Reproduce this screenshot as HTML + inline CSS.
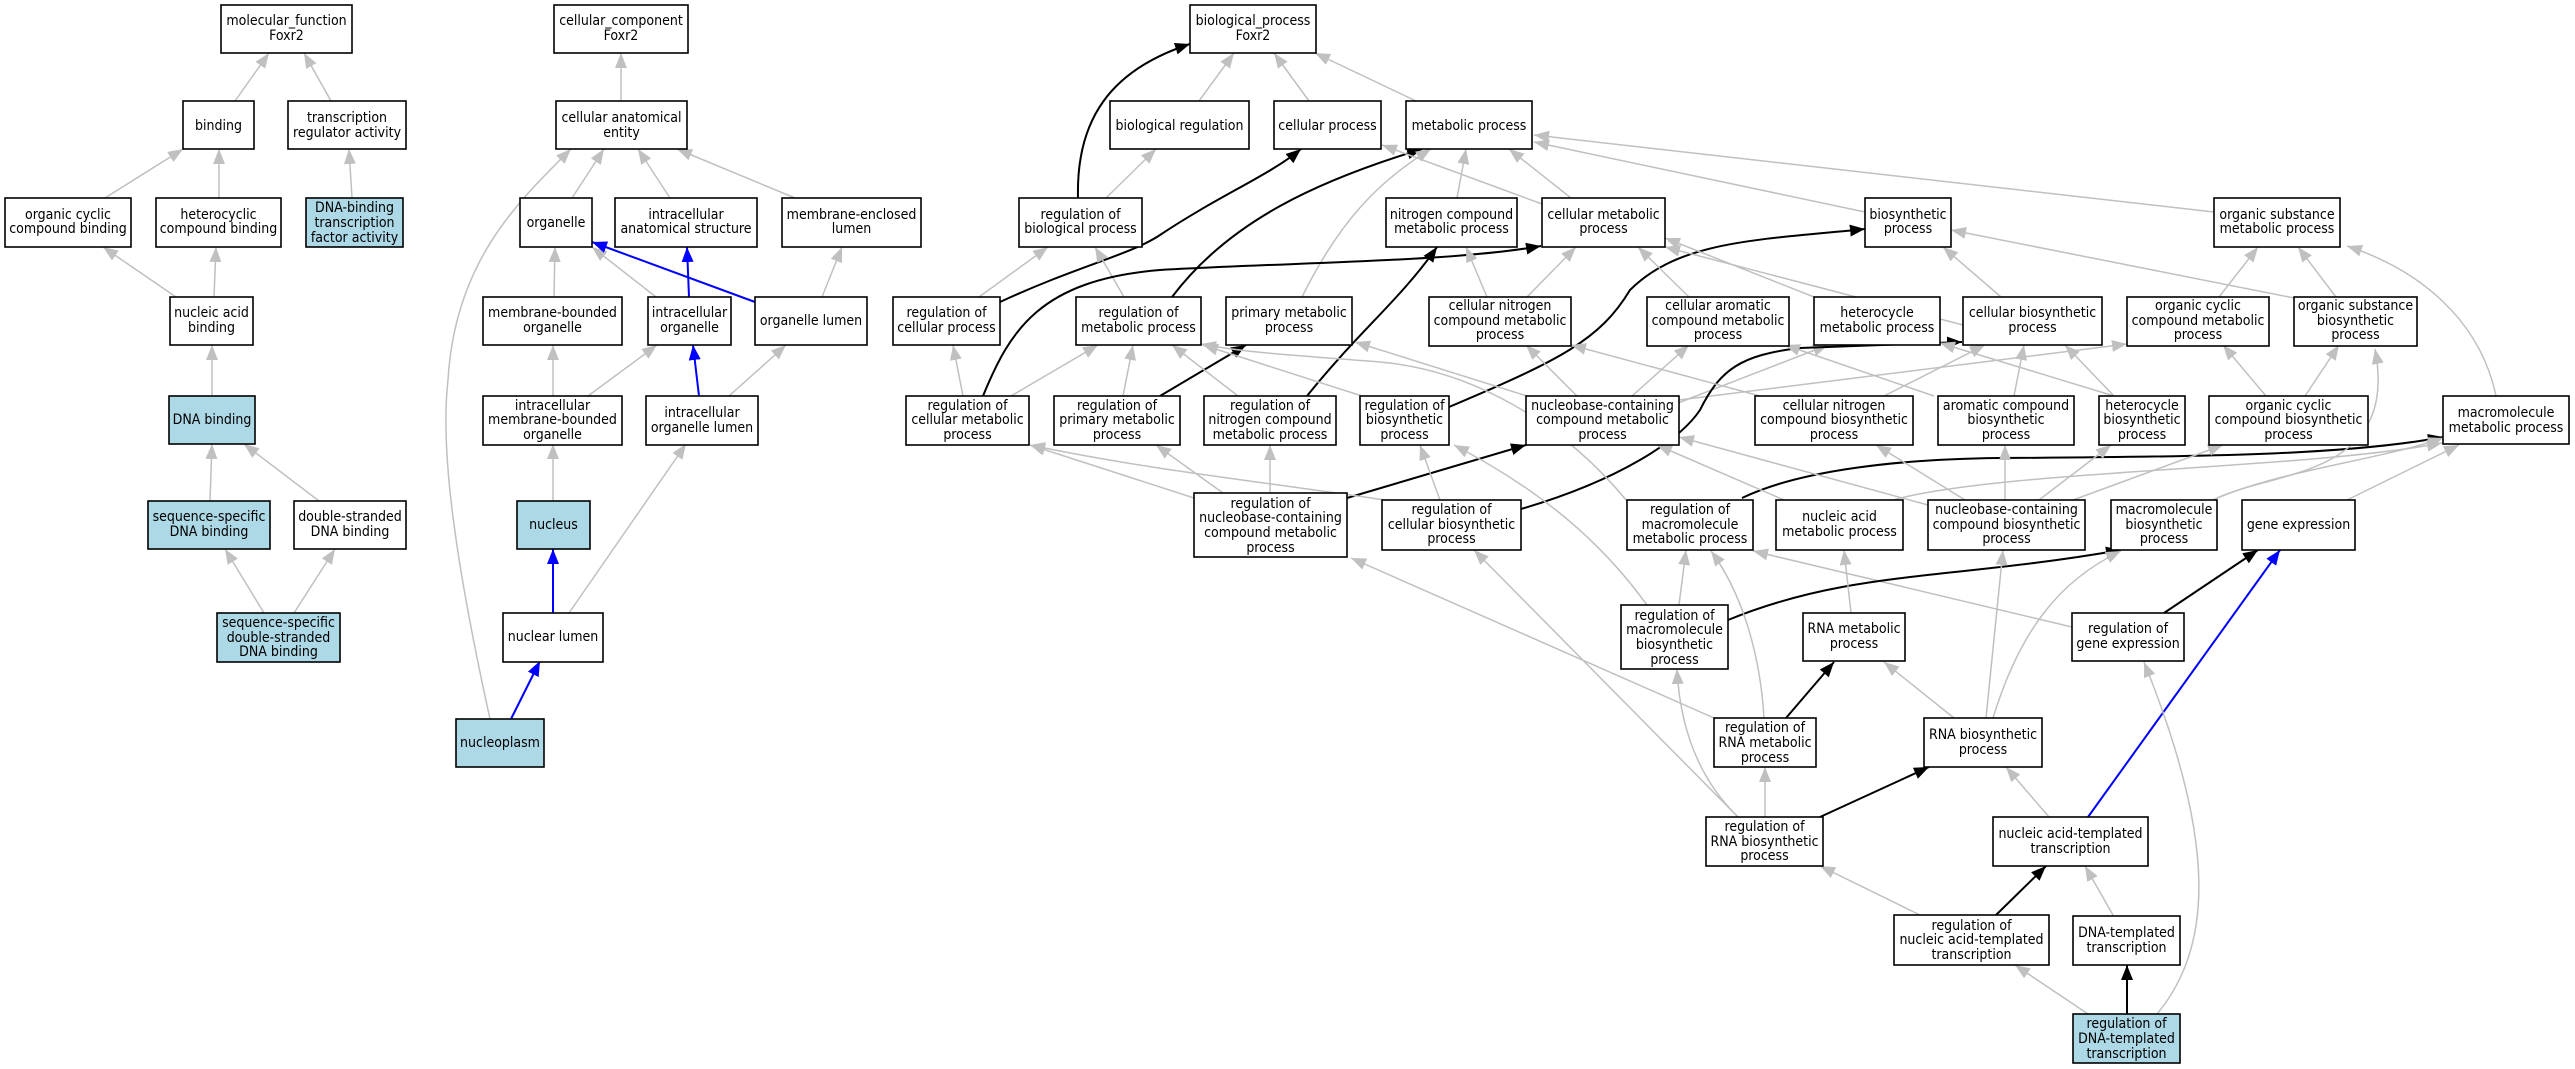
<!DOCTYPE html>
<html><head><meta charset="utf-8"><style>
body{margin:0;background:#fff}
svg{display:block}
text{font-family:"DejaVu Sans Condensed","DejaVu Sans","Liberation Sans",sans-serif;font-size:14px;fill:#000;text-anchor:middle}
rect{stroke:#000;stroke-width:1.6}
.g{stroke:#c0c0c0;stroke-width:1.5;fill:none;marker-end:url(#mg)}
.k{stroke:#000;stroke-width:2;fill:none;marker-end:url(#mk)}
.b{stroke:#0000ff;stroke-width:2;fill:none;marker-end:url(#mb)}
</style></head><body>
<svg width="2575" height="1069" viewBox="0 0 2575 1069" xmlns="http://www.w3.org/2000/svg">
<defs>
<marker id="mg" markerUnits="userSpaceOnUse" markerWidth="16" markerHeight="12" refX="15" refY="6" orient="auto"><path d="M0,0 L15,6 L0,12 z" fill="#c0c0c0"/></marker>
<marker id="mk" markerUnits="userSpaceOnUse" markerWidth="16" markerHeight="12" refX="15" refY="6" orient="auto"><path d="M0,0 L15,6 L0,12 z" fill="#000"/></marker>
<marker id="mb" markerUnits="userSpaceOnUse" markerWidth="16" markerHeight="12" refX="15" refY="6" orient="auto"><path d="M0,0 L15,6 L0,12 z" fill="#0000ff"/></marker>
</defs>
<g id="edges">
<!-- MF -->
<path class="g" d="M235,101 L269,53"/>
<path class="g" d="M331,101 L304,53"/>
<path class="g" d="M105,198 L183,149"/>
<path class="g" d="M219,198 L219,149"/>
<path class="g" d="M352,198 L349,149"/>
<path class="g" d="M176,297 L103,247"/>
<path class="g" d="M214,297 L216,247"/>
<path class="g" d="M212,396 L212,345"/>
<path class="g" d="M210,501 L212,444"/>
<path class="g" d="M319,501 L244,444"/>
<path class="g" d="M264,613 L225,549"/>
<path class="g" d="M294,613 L335,549"/>
<!-- CC -->
<path class="g" d="M621,101 L621,53"/>
<path class="g" d="M572,198 L604,149"/>
<path class="g" d="M670,198 L638,149"/>
<path class="g" d="M795,198 L677,149"/>
<path class="g" d="M490,719 C455,560 440,450 448,380 C455,260 520,200 571,149"/>
<path class="g" d="M554,297 L555,247"/>
<path class="g" d="M656,297 L592,247"/>
<path class="b" d="M755,302 L592,242"/>
<path class="b" d="M689,297 L687,247"/>
<path class="g" d="M822,297 L842,247"/>
<path class="g" d="M553,396 L553,345"/>
<path class="g" d="M588,396 L657,345"/>
<path class="b" d="M699,396 L693,345"/>
<path class="g" d="M729,396 L786,345"/>
<path class="g" d="M553,501 L553,444"/>
<path class="b" d="M553,613 L553,549"/>
<path class="g" d="M569,613 L686,444"/>
<path class="b" d="M511,719 L540,661"/>
<!-- BP -->
<path class="g" d="M1199,101 L1234,53"/>
<path class="g" d="M1309,101 L1274,53"/>
<path class="g" d="M1416,101 L1315,53"/>
<path class="k" d="M1078,198 C1076,120 1110,70 1190,44"/>
<path class="g" d="M1106,198 L1156,149"/>
<path class="g" d="M979,297 L1048,247"/>
<path class="k" d="M1000,302 C1080,265 1130,255 1160,235 C1220,195 1270,175 1301,149"/>
<path class="g" d="M1124,297 L1095,247"/>
<path class="k" d="M1172,297 C1230,220 1320,180 1422,149"/>
<path class="g" d="M1302,297 C1340,220 1380,180 1431,149"/>
<path class="g" d="M1457,198 L1466,149"/>
<path class="g" d="M1571,198 L1509,149"/>
<path class="g" d="M1542,204 L1382,145"/>
<path class="g" d="M1865,212 L1534,142"/>
<path class="g" d="M2214,212 L1534,135"/>
<path class="g" d="M963,396 L953,345"/>
<path class="k" d="M983,396 C1010,330 1040,280 1160,270 C1300,262 1450,262 1541,246"/>
<path class="g" d="M1011,396 L1098,345"/>
<path class="g" d="M1123,396 L1133,345"/>
<path class="k" d="M1160,396 L1246,345"/>
<path class="g" d="M1238,396 L1172,345"/>
<path class="k" d="M1307,396 C1360,330 1400,300 1437,247"/>
<path class="g" d="M1362,396 L1203,345"/>
<path class="k" d="M1449,407 C1560,360 1600,340 1630,290 C1680,240 1760,240 1865,229"/>
<path class="g" d="M1527,396 L1355,342"/>
<path class="g" d="M1577,396 L1526,345"/>
<path class="g" d="M1487,297 L1466,247"/>
<path class="g" d="M1527,297 L1576,247"/>
<path class="g" d="M1689,297 L1638,247"/>
<path class="g" d="M1814,297 L1665,238"/>
<path class="g" d="M1963,325 L1665,247"/>
<path class="g" d="M1632,396 L1689,345"/>
<path class="g" d="M1678,403 L1828,345"/>
<path class="g" d="M1679,400 L2127,344"/>
<path class="g" d="M1194,498 L1030,445"/>
<path class="g" d="M1223,493 L1156,445"/>
<path class="g" d="M1270,493 L1270,445"/>
<path class="k" d="M1347,498 L1526,445"/>
<path class="g" d="M1385,500 C1250,480 1150,470 1030,445"/>
<path class="g" d="M1440,500 L1420,445"/>
<path class="k" d="M1521,509 C1620,480 1680,440 1700,410 C1720,370 1740,355 1800,348 L1962,342"/>
<path class="g" d="M1647,605 C1600,540 1540,490 1454,445"/>
<path class="g" d="M1627,501 C1560,420 1470,370 1380,362 C1290,355 1240,352 1201,344"/>
<path class="k" d="M1742,498 C1800,470 1900,459 2000,458 C2200,457 2350,455 2443,437"/>
<path class="g" d="M1928,505 L1679,437"/>
<path class="g" d="M1784,500 L1657,445"/>
<path class="g" d="M1760,396 L1571,345"/>
<path class="g" d="M1884,396 L1985,345"/>
<path class="g" d="M2014,396 L2024,345"/>
<path class="g" d="M1934,396 L1785,345"/>
<path class="g" d="M2114,396 L2065,345"/>
<path class="g" d="M2114,396 L1940,343"/>
<path class="g" d="M2266,396 L2223,345"/>
<path class="g" d="M2305,396 L2339,345"/>
<path class="g" d="M2001,297 L1943,247"/>
<path class="g" d="M2294,298 L1951,230"/>
<path class="g" d="M2219,297 L2258,247"/>
<path class="g" d="M2336,297 L2298,247"/>
<path class="g" d="M2496,396 C2480,320 2420,270 2347,246"/>
<path class="g" d="M1965,500 L1876,445"/>
<path class="g" d="M2005,500 L2005,445"/>
<path class="g" d="M2039,500 L2111,445"/>
<path class="g" d="M2073,500 L2223,445"/>
<path class="g" d="M1893,500 C2000,470 2300,470 2442,443"/>
<path class="g" d="M2213,500 C2280,470 2380,460 2443,438"/>
<path class="g" d="M2213,500 C2270,470 2400,480 2375,349"/>
<path class="g" d="M2347,500 L2459,445"/>
<path class="g" d="M2072,627 L1753,551"/>
<path class="k" d="M2164,613 L2258,550"/>
<path class="k" d="M1728,620 C1850,570 1950,580 2121,550"/>
<path class="g" d="M1679,605 L1686,550"/>
<path class="g" d="M1851,613 L1844,550"/>
<path class="g" d="M1764,718 C1760,650 1740,590 1711,551"/>
<path class="g" d="M1714,718 L1351,558"/>
<path class="k" d="M1786,718 L1834,662"/>
<path class="g" d="M1954,718 L1884,662"/>
<path class="g" d="M1986,718 L2003,550"/>
<path class="g" d="M1993,718 C2020,630 2060,580 2121,551"/>
<path class="g" d="M1765,817 L1765,767"/>
<path class="g" d="M1738,817 C1700,780 1680,730 1677,669"/>
<path class="g" d="M1738,817 L1474,550"/>
<path class="k" d="M1820,817 L1929,767"/>
<path class="g" d="M2049,817 L2006,767"/>
<path class="b" d="M2088,817 L2280,550"/>
<path class="g" d="M1920,915 L1820,866"/>
<path class="k" d="M1996,915 L2046,866"/>
<path class="g" d="M2113,915 L2085,866"/>
<path class="g" d="M2088,1014 L2015,965"/>
<path class="k" d="M2127,1014 L2127,965"/>
<path class="g" d="M2157,1014 C2210,950 2220,850 2144,662"/>
</g>
<g id="nodes">
<!-- MF -->
<rect x="221" y="5" width="131" height="48" fill="#fff"/><text x="286.5" y="25">molecular_function</text><text x="286.5" y="40">Foxr2</text>
<rect x="183" y="101" width="71" height="48" fill="#fff"/><text x="218.5" y="130">binding</text>
<rect x="288" y="101" width="118" height="48" fill="#fff"/><text x="347" y="122">transcription</text><text x="347" y="137">regulator activity</text>
<rect x="5" y="198" width="126" height="49" fill="#fff"/><text x="68" y="219">organic cyclic</text><text x="68" y="233">compound binding</text>
<rect x="156" y="198" width="125" height="49" fill="#fff"/><text x="218.5" y="219">heterocyclic</text><text x="218.5" y="233">compound binding</text>
<rect x="306" y="198" width="97" height="49" fill="#add8e6"/><text x="354.5" y="212">DNA-binding</text><text x="354.5" y="227">transcription</text><text x="354.5" y="242">factor activity</text>
<rect x="170" y="297" width="83" height="48" fill="#fff"/><text x="211.5" y="317">nucleic acid</text><text x="211.5" y="332">binding</text>
<rect x="169" y="396" width="86" height="48" fill="#add8e6"/><text x="212" y="424">DNA binding</text>
<rect x="148" y="501" width="122" height="48" fill="#add8e6"/><text x="209" y="521">sequence-specific</text><text x="209" y="536">DNA binding</text>
<rect x="294" y="501" width="112" height="48" fill="#fff"/><text x="350" y="521">double-stranded</text><text x="350" y="536">DNA binding</text>
<rect x="217" y="613" width="123" height="49" fill="#add8e6"/><text x="278.5" y="627">sequence-specific</text><text x="278.5" y="642">double-stranded</text><text x="278.5" y="656">DNA binding</text>
<!-- CC -->
<rect x="554" y="5" width="134" height="48" fill="#fff"/><text x="621" y="25">cellular_component</text><text x="621" y="40">Foxr2</text>
<rect x="556" y="101" width="131" height="48" fill="#fff"/><text x="621.5" y="122">cellular anatomical</text><text x="621.5" y="137">entity</text>
<rect x="520" y="198" width="72" height="49" fill="#fff"/><text x="556" y="227">organelle</text>
<rect x="615" y="198" width="142" height="49" fill="#fff"/><text x="686" y="219">intracellular</text><text x="686" y="233">anatomical structure</text>
<rect x="782" y="198" width="139" height="49" fill="#fff"/><text x="851.5" y="219">membrane-enclosed</text><text x="851.5" y="233">lumen</text>
<rect x="483" y="297" width="139" height="48" fill="#fff"/><text x="552.5" y="317">membrane-bounded</text><text x="552.5" y="332">organelle</text>
<rect x="648" y="297" width="83" height="48" fill="#fff"/><text x="689.5" y="317">intracellular</text><text x="689.5" y="332">organelle</text>
<rect x="755" y="297" width="112" height="48" fill="#fff"/><text x="811" y="325">organelle lumen</text>
<rect x="483" y="396" width="139" height="49" fill="#fff"/><text x="552.5" y="410">intracellular</text><text x="552.5" y="424">membrane-bounded</text><text x="552.5" y="439">organelle</text>
<rect x="646" y="396" width="112" height="49" fill="#fff"/><text x="702" y="417">intracellular</text><text x="702" y="432">organelle lumen</text>
<rect x="517" y="501" width="73" height="48" fill="#add8e6"/><text x="553.5" y="529">nucleus</text>
<rect x="503" y="613" width="100" height="49" fill="#fff"/><text x="553" y="641">nuclear lumen</text>
<rect x="456" y="719" width="88" height="48" fill="#add8e6"/><text x="500" y="747">nucleoplasm</text>
<!-- BP -->
<rect x="1190" y="5" width="126" height="48" fill="#fff"/><text x="1253" y="25">biological_process</text><text x="1253" y="40">Foxr2</text>
<rect x="1110" y="101" width="139" height="48" fill="#fff"/><text x="1179.5" y="130">biological regulation</text>
<rect x="1274" y="101" width="107" height="48" fill="#fff"/><text x="1327.5" y="130">cellular process</text>
<rect x="1406" y="101" width="126" height="48" fill="#fff"/><text x="1469" y="130">metabolic process</text>
<rect x="1019" y="198" width="123" height="49" fill="#fff"/><text x="1080.5" y="219">regulation of</text><text x="1080.5" y="233">biological process</text>
<rect x="1386" y="198" width="131" height="49" fill="#fff"/><text x="1451.5" y="219">nitrogen compound</text><text x="1451.5" y="233">metabolic process</text>
<rect x="1542" y="198" width="123" height="49" fill="#fff"/><text x="1603.5" y="219">cellular metabolic</text><text x="1603.5" y="233">process</text>
<rect x="1865" y="198" width="86" height="49" fill="#fff"/><text x="1908" y="219">biosynthetic</text><text x="1908" y="233">process</text>
<rect x="2214" y="198" width="126" height="49" fill="#fff"/><text x="2277" y="219">organic substance</text><text x="2277" y="233">metabolic process</text>
<rect x="893" y="297" width="107" height="48" fill="#fff"/><text x="946.5" y="317">regulation of</text><text x="946.5" y="332">cellular process</text>
<rect x="1076" y="297" width="125" height="48" fill="#fff"/><text x="1138.5" y="317">regulation of</text><text x="1138.5" y="332">metabolic process</text>
<rect x="1226" y="297" width="126" height="48" fill="#fff"/><text x="1289" y="317">primary metabolic</text><text x="1289" y="332">process</text>
<rect x="1429" y="297" width="142" height="49" fill="#fff"/><text x="1500" y="310">cellular nitrogen</text><text x="1500" y="325">compound metabolic</text><text x="1500" y="339">process</text>
<rect x="1647" y="297" width="142" height="49" fill="#fff"/><text x="1718" y="310">cellular aromatic</text><text x="1718" y="325">compound metabolic</text><text x="1718" y="339">process</text>
<rect x="1814" y="297" width="126" height="48" fill="#fff"/><text x="1877" y="317">heterocycle</text><text x="1877" y="332">metabolic process</text>
<rect x="1963" y="297" width="139" height="48" fill="#fff"/><text x="2032.5" y="317">cellular biosynthetic</text><text x="2032.5" y="332">process</text>
<rect x="2127" y="297" width="142" height="49" fill="#fff"/><text x="2198" y="310">organic cyclic</text><text x="2198" y="325">compound metabolic</text><text x="2198" y="339">process</text>
<rect x="2294" y="297" width="123" height="49" fill="#fff"/><text x="2355.5" y="310">organic substance</text><text x="2355.5" y="325">biosynthetic</text><text x="2355.5" y="339">process</text>
<rect x="906" y="396" width="123" height="49" fill="#fff"/><text x="967.5" y="410">regulation of</text><text x="967.5" y="424">cellular metabolic</text><text x="967.5" y="439">process</text>
<rect x="1054" y="396" width="126" height="49" fill="#fff"/><text x="1117" y="410">regulation of</text><text x="1117" y="424">primary metabolic</text><text x="1117" y="439">process</text>
<rect x="1204" y="396" width="132" height="49" fill="#fff"/><text x="1270" y="410">regulation of</text><text x="1270" y="424">nitrogen compound</text><text x="1270" y="439">metabolic process</text>
<rect x="1360" y="396" width="89" height="49" fill="#fff"/><text x="1404.5" y="410">regulation of</text><text x="1404.5" y="424">biosynthetic</text><text x="1404.5" y="439">process</text>
<rect x="1526" y="396" width="153" height="49" fill="#fff"/><text x="1602.5" y="410">nucleobase-containing</text><text x="1602.5" y="424">compound metabolic</text><text x="1602.5" y="439">process</text>
<rect x="1755" y="396" width="158" height="49" fill="#fff"/><text x="1834" y="410">cellular nitrogen</text><text x="1834" y="424">compound biosynthetic</text><text x="1834" y="439">process</text>
<rect x="1938" y="396" width="136" height="49" fill="#fff"/><text x="2006" y="410">aromatic compound</text><text x="2006" y="424">biosynthetic</text><text x="2006" y="439">process</text>
<rect x="2099" y="396" width="86" height="49" fill="#fff"/><text x="2142" y="410">heterocycle</text><text x="2142" y="424">biosynthetic</text><text x="2142" y="439">process</text>
<rect x="2209" y="396" width="159" height="49" fill="#fff"/><text x="2288.5" y="410">organic cyclic</text><text x="2288.5" y="424">compound biosynthetic</text><text x="2288.5" y="439">process</text>
<rect x="2443" y="396" width="126" height="48" fill="#fff"/><text x="2506" y="417">macromolecule</text><text x="2506" y="432">metabolic process</text>
<rect x="1194" y="493" width="153" height="64" fill="#fff"/><text x="1270.5" y="508">regulation of</text><text x="1270.5" y="522">nucleobase-containing</text><text x="1270.5" y="537">compound metabolic</text><text x="1270.5" y="552">process</text>
<rect x="1382" y="500" width="139" height="50" fill="#fff"/><text x="1451.5" y="514">regulation of</text><text x="1451.5" y="529">cellular biosynthetic</text><text x="1451.5" y="543">process</text>
<rect x="1627" y="500" width="126" height="50" fill="#fff"/><text x="1690" y="514">regulation of</text><text x="1690" y="529">macromolecule</text><text x="1690" y="543">metabolic process</text>
<rect x="1776" y="500" width="127" height="50" fill="#fff"/><text x="1839.5" y="521">nucleic acid</text><text x="1839.5" y="536">metabolic process</text>
<rect x="1928" y="500" width="157" height="50" fill="#fff"/><text x="2006.5" y="514">nucleobase-containing</text><text x="2006.5" y="529">compound biosynthetic</text><text x="2006.5" y="543">process</text>
<rect x="2111" y="500" width="106" height="50" fill="#fff"/><text x="2164" y="514">macromolecule</text><text x="2164" y="529">biosynthetic</text><text x="2164" y="543">process</text>
<rect x="2242" y="500" width="113" height="50" fill="#fff"/><text x="2298.5" y="529">gene expression</text>
<rect x="1621" y="605" width="107" height="64" fill="#fff"/><text x="1674.5" y="620">regulation of</text><text x="1674.5" y="634">macromolecule</text><text x="1674.5" y="649">biosynthetic</text><text x="1674.5" y="664">process</text>
<rect x="1803" y="613" width="102" height="48" fill="#fff"/><text x="1854" y="633">RNA metabolic</text><text x="1854" y="648">process</text>
<rect x="2072" y="613" width="112" height="48" fill="#fff"/><text x="2128" y="633">regulation of</text><text x="2128" y="648">gene expression</text>
<rect x="1714" y="718" width="102" height="49" fill="#fff"/><text x="1765" y="732">regulation of</text><text x="1765" y="747">RNA metabolic</text><text x="1765" y="762">process</text>
<rect x="1924" y="718" width="118" height="49" fill="#fff"/><text x="1983" y="739">RNA biosynthetic</text><text x="1983" y="754">process</text>
<rect x="1706" y="817" width="117" height="49" fill="#fff"/><text x="1764.5" y="831">regulation of</text><text x="1764.5" y="846">RNA biosynthetic</text><text x="1764.5" y="860">process</text>
<rect x="1993" y="817" width="155" height="49" fill="#fff"/><text x="2070.5" y="838">nucleic acid-templated</text><text x="2070.5" y="853">transcription</text>
<rect x="1894" y="915" width="155" height="50" fill="#fff"/><text x="1971.5" y="930">regulation of</text><text x="1971.5" y="944">nucleic acid-templated</text><text x="1971.5" y="959">transcription</text>
<rect x="2073" y="916" width="107" height="49" fill="#fff"/><text x="2126.5" y="937">DNA-templated</text><text x="2126.5" y="952">transcription</text>
<rect x="2073" y="1014" width="107" height="49" fill="#add8e6"/><text x="2126.5" y="1028">regulation of</text><text x="2126.5" y="1043">DNA-templated</text><text x="2126.5" y="1058">transcription</text>
</g>
</svg>
</body></html>
